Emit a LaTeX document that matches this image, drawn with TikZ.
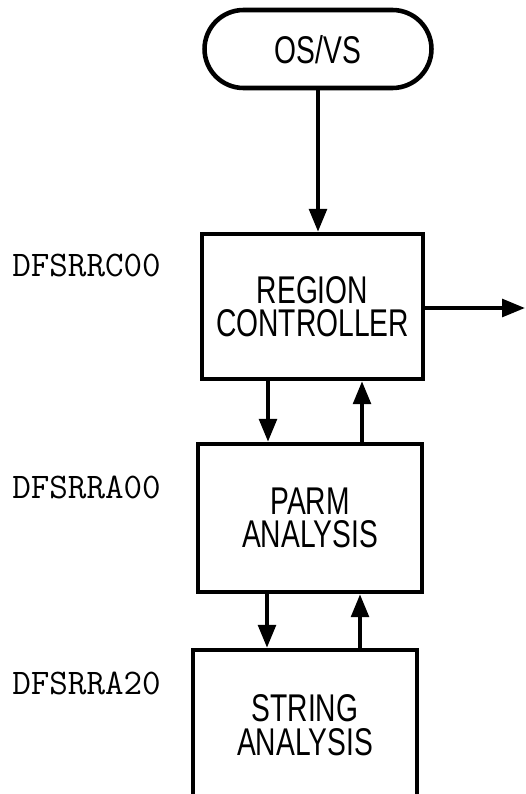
\documentclass[tikz,border=0pt]{standalone}
\usepackage{fontspec}
\usetikzlibrary{arrows.meta, positioning}
\newfontfamily\boxfont[FakeStretch=0.73]{Liberation Sans}

\begin{document}
\begin{tikzpicture}[
  x=0.02cm, y=-0.02cm,
  box/.style={draw, line width=2.6pt, rectangle, align=center, text depth=-0.22cm,
              font=\boxfont\fontsize{22}{19}\selectfont, inner sep=0pt},
  term/.style={box, rounded corners=0.78cm, text depth=-0.08cm},
  modname/.style={anchor=west, inner sep=0pt,
                  font=\ttfamily\fontsize{20.5}{24}\selectfont},
  flow/.style={line width=2.2pt, -{Triangle[length=13pt, width=10pt]}},
]
\useasboundingbox (0,0) rectangle (525,794);
% Boxes
\node[term, minimum width=4.54cm, minimum height=1.56cm] (os) at (318,49) {OS/VS};
\node[box, minimum width=4.42cm, minimum height=2.9cm] (region) at (312.5,306.5) {REGION\\CONTROLLER};
\node[box, minimum width=4.48cm, minimum height=2.96cm] (parm) at (310,518) {PARM\\ANALYSIS};
\node[box, minimum width=4.48cm, minimum height=3.0cm] (string) at (305,725) {STRING\\ANALYSIS};
% Module names
\node[modname] (lblrc) at (12,265) {DFSRRC00};
\node[modname] (lblra) at (12,487) {DFSRRA00};
\node[modname] (lblrb) at (12,683) {DFSRRA20};
% Connectors
\coordinate (dn1) at (268,0);
\coordinate (up1) at (362,0);
\coordinate (dn2) at (267,0);
\coordinate (up2) at (360,0);
\coordinate (out) at (525,308);
\draw[flow] (os.south) -- (os.south |- region.north);
\draw[flow] (region.east |- out) -- (out);
\draw[flow] (dn1 |- region.south) -- (dn1 |- parm.north);
\draw[flow] (up1 |- parm.north) -- (up1 |- region.south);
\draw[flow] (dn2 |- parm.south) -- (dn2 |- string.north);
\draw[flow] (up2 |- string.north) -- (up2 |- parm.south);
\end{tikzpicture}
\end{document}
